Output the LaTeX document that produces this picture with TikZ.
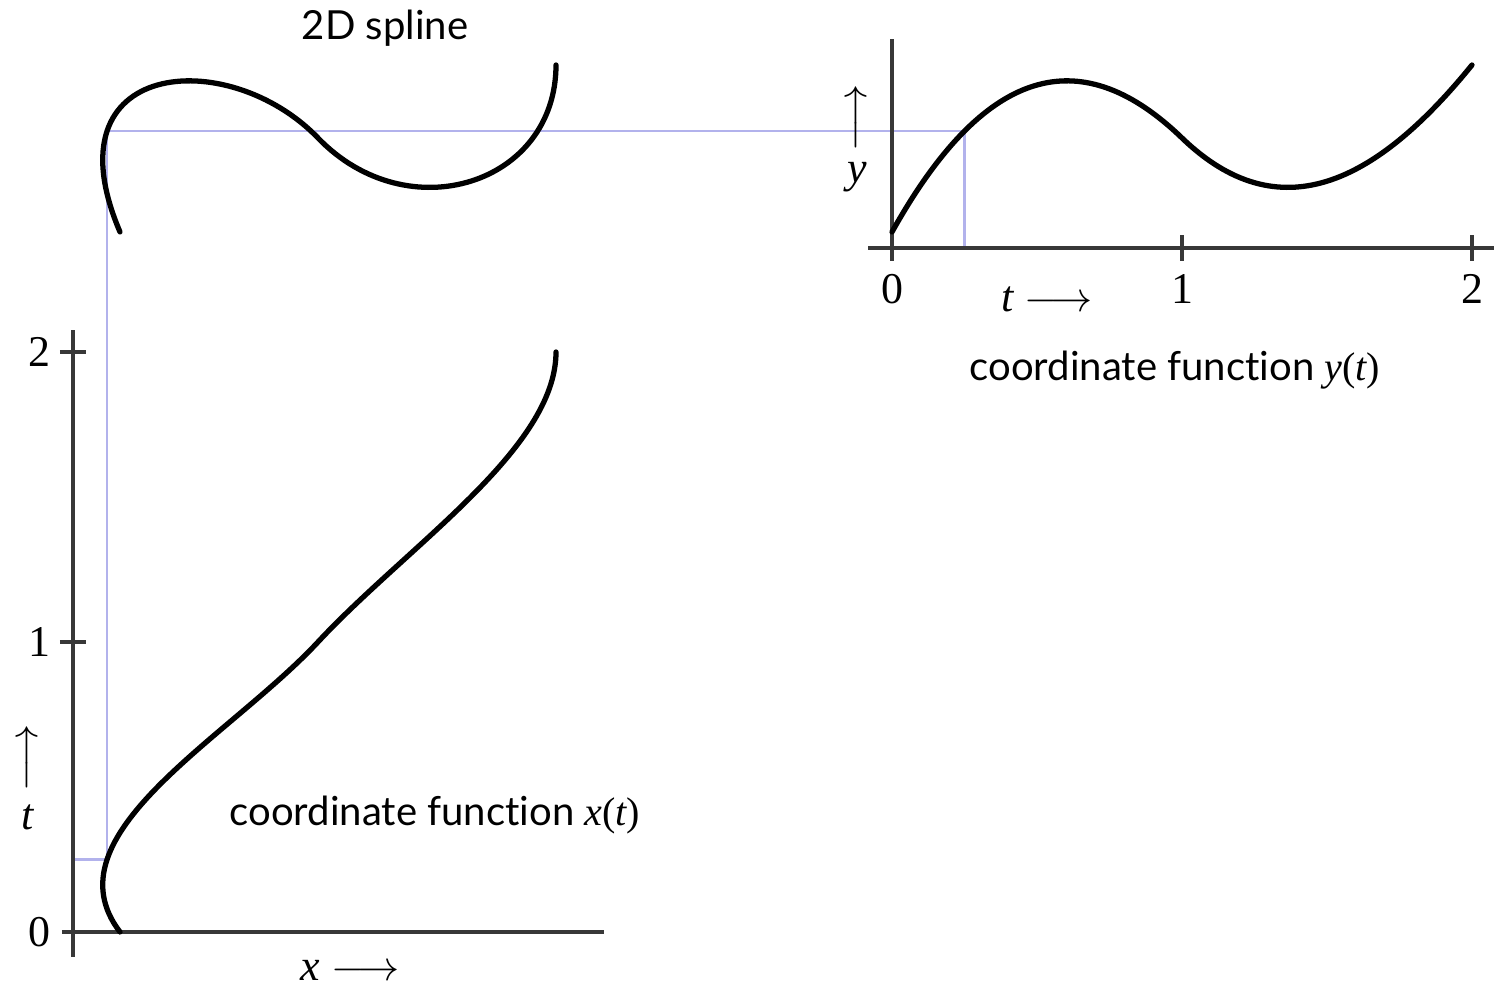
\documentclass[tikz,border=0pt]{standalone}
\usepackage{fontspec}
\setsansfont{Lato}[Ligatures=NoCommon]
\newfontfamily\tms{Liberation Serif}
\usetikzlibrary{positioning}
\definecolor{guide}{RGB}{178,178,236}
\tikzset{
  axis/.style={draw=black!78,line width=0.9pt},
  spline/.style={line width=1.5pt,line cap=round},
  guideline/.style={draw=guide,line width=0.6pt},
  caption/.style={font=\sffamily\fontsize{11.4}{14}\selectfont,inner sep=0pt},
  num/.style={font=\tms\fontsize{12.5}{15}\selectfont,inner sep=0pt},
  var/.style={font=\tms\itshape\fontsize{12.5}{15}\selectfont,inner sep=0pt}
}
\newcommand{\arr}{$\longrightarrow$}
\newcommand{\fnof}[1]{{\tms\itshape #1}{\tms(}{\tms\itshape t}{\tms)}}

\begin{document}
\begin{tikzpicture}
\useasboundingbox (0,0) rectangle (14.94,9.85);
% guide points at t=1/4
\coordinate (xa) at (0.73,1.255);
\coordinate (xq) at (1.07,1.255);
\coordinate (sq) at (1.07,8.54);
\coordinate (yq) at (9.645,8.54);
\coordinate (yb) at (9.645,7.37);
\draw[guideline] (xa) -- (xq) -- (sq) -- (yq) -- (yb);
% coordinate function x(t)
\begin{scope}[shift={(0.73,0.53)}]
\draw[axis] (0,-0.25) -- (0,6.02);
\draw[axis] (-0.11,0) -- (5.31,0);
\foreach \t in {1,2} \draw[axis] (-0.13,2.9*\t) -- (0.13,2.9*\t);
\foreach \t in {0,1,2} \node[num] (xt\t) at (-0.34,2.9*\t) {\t};
\draw[spline] (0.47,0) .. controls (-0.27,0.967) and (1.55,1.933) .. (2.45,2.9)
  .. controls (3.35,3.867) and (4.83,4.833) .. (4.83,5.8);
\node[var] (tlab) at (-0.45,1.15) {t};
\node[num,rotate=90] (tarr) at (-0.43,1.74) {\arr};
\node[var] (xlab) at (2.77,-0.38) {x \arr};
\end{scope}
% coordinate function y(t)
\begin{scope}[shift={(8.92,7.37)}]
\draw[axis] (0,-0.13) -- (0,2.09);
\draw[axis] (-0.24,0) -- (6.1,0);
\foreach \t in {1,2} \draw[axis] (2.9*\t,-0.13) -- (2.9*\t,0.13);
\foreach \t in {0,1,2} \node[num] (yt\t) at (2.9*\t,-0.41) {\t};
\draw[spline] (0,0.16) .. controls (0.967,1.893) and (1.933,2.033) .. (2.9,1.10)
  .. controls (3.867,0.167) and (4.833,0.637) .. (5.8,1.83);
\node[var] (ylab) at (-0.35,0.71) {y};
\node[num,rotate=90] (yarr) at (-0.33,1.30) {\arr};
\node[var] (tlab2) at (1.55,-0.51) {t \arr};
\end{scope}
% 2D spline
\begin{scope}[shift={(0.73,7.37)}]
\draw[spline] (0.47,0.16) .. controls (-0.27,1.893) and (1.55,2.033) .. (2.45,1.10)
  .. controls (3.35,0.167) and (4.83,0.637) .. (4.83,1.83);
\end{scope}
\node[caption] (title) at (3.85,9.57) {2D spline};
\node[caption] (capx) at (4.35,1.70) {coordinate function \fnof{x}};
\node[caption] (capy) at (11.75,6.15) {coordinate function \fnof{y}};
\end{tikzpicture}
\end{document}
